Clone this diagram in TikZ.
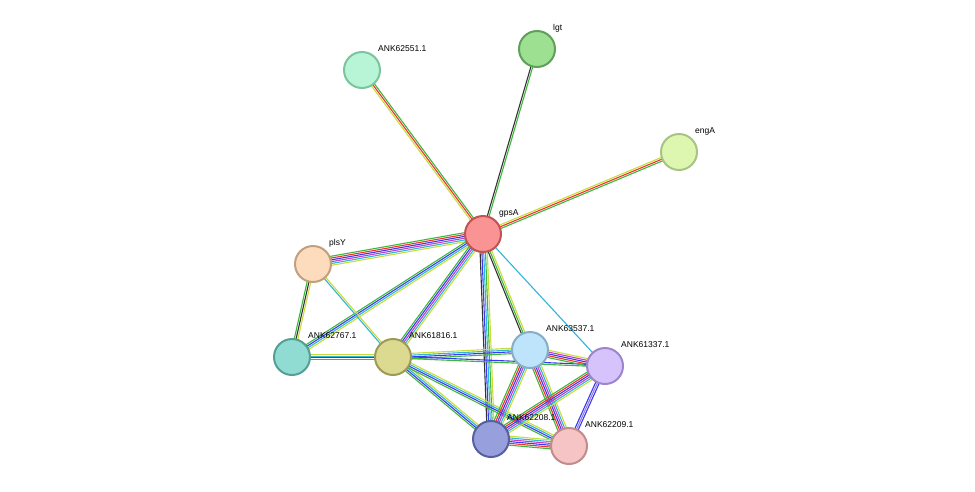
\documentclass[tikz,border=0pt]{standalone}
\usepackage{fontspec}
\setmainfont{Liberation Sans}
\usetikzlibrary{calc}
\definecolor{eGreen}{HTML}{3CB83C}
\definecolor{eRed}{HTML}{F0322D}
\definecolor{eBlue}{HTML}{3A3AF0}
\definecolor{eBlack}{HTML}{333333}
\definecolor{eMag}{HTML}{C43CC4}
\definecolor{eCyan}{HTML}{30B4D8}
\definecolor{eYel}{HTML}{C8DC3C}
\definecolor{ePur}{HTML}{9A7CE0}
\newcommand\stredge[4]{%
  \foreach \c [count=\i] in {#4}{%
    \pgfmathsetmacro\o{(\i-(#3+1)/2)*1.8}
    \draw[\c,line width=1.1pt] ($(#1)!\o pt!90:(#2)$) -- ($(#2)!\o pt!-90:(#1)$);
  }}
\newcommand\prot[4]{%
  \definecolor{pFill}{HTML}{#3}\definecolor{pDraw}{HTML}{#4}%
  \node[prot,fill=pFill,draw=pDraw] (n#1) at (#1) {};
  \node[lbl] at ([shift={(16,-21)}]#1) {#2};}
\begin{document}
\begin{tikzpicture}[x=1pt,y=-1pt]
\tikzset{prot/.style={circle,minimum size=36pt,inner sep=0,line width=2pt},
  lbl/.style={anchor=west,font=\fontsize{8.5}{10}\selectfont,inner sep=0}}
\useasboundingbox[fill=white] (0,0) rectangle (975,491);

\coordinate (a62551) at (362,70);
\coordinate (lgt) at (537,49);
\coordinate (engA) at (679,152);
\coordinate (gpsA) at (483,234);
\coordinate (plsY) at (313,264);
\coordinate (a62767) at (292,357);
\coordinate (a61816) at (393,357);
\coordinate (a63537) at (530,350);
\coordinate (a61337) at (605,366);
\coordinate (a62208) at (491,439);
\coordinate (a62209) at (569,446);

% edges
\stredge{gpsA}{a62551}{3}{eGreen,eRed,eYel}
\stredge{gpsA}{lgt}{2}{eGreen,eBlack}
\stredge{gpsA}{engA}{3}{eGreen,eRed,eYel}
\stredge{gpsA}{plsY}{6}{eGreen,eRed,eBlue,eMag,eCyan,eYel}
\stredge{gpsA}{a62767}{4}{eGreen,eBlue,eCyan,eYel}
\stredge{gpsA}{a61816}{5}{eGreen,eBlue,eMag,eCyan,eYel}
\stredge{gpsA}{a63537}{3}{eBlack,eGreen,eYel}
\stredge{gpsA}{a61337}{1}{eCyan}
\stredge{gpsA}{a62208}{5}{eBlack,eBlue,eCyan,eGreen,eYel}
\stredge{plsY}{a62767}{3}{eGreen,eBlack,eYel}
\stredge{plsY}{a61816}{2}{eCyan,eYel}
\stredge{a62767}{a61816}{4}{eGreen,eBlue,eCyan,eYel}
\stredge{a61816}{a63537}{4}{eGreen,eBlue,eCyan,eYel}
\stredge{a61816}{a61337}{2}{eGreen,eBlue}
\stredge{a61816}{a62208}{4}{eGreen,eBlue,eCyan,eYel}
\stredge{a61816}{a62209}{4}{eGreen,eBlue,eCyan,eYel}
\stredge{a63537}{a61337}{5}{eGreen,eRed,eBlue,eMag,eYel}
\stredge{a63537}{a62208}{6}{eGreen,eRed,eBlue,eMag,eCyan,eYel}
\stredge{a63537}{a62209}{6}{eGreen,eRed,eBlue,eMag,eCyan,eYel}
\stredge{a61337}{a62208}{6}{eGreen,eRed,eBlue,eMag,eCyan,eYel}
\stredge{a61337}{a62209}{3}{eBlue,ePur,eBlue}
\stredge{a62208}{a62209}{6}{eGreen,eRed,eBlue,eMag,eCyan,eYel}

% nodes
\prot{a62551}{ANK62551.1}{B8F5D6}{7CC49C}
\prot{lgt}{lgt}{9EE092}{5FA05A}
\prot{engA}{engA}{DDF7B0}{A7C484}
\prot{gpsA}{gpsA}{FA9393}{C05454}
\prot{plsY}{plsY}{FDDCBE}{C2A07E}
\prot{a62767}{ANK62767.1}{90DCD3}{559F95}
\prot{a61816}{ANK61816.1}{DCD991}{9C9A55}
\prot{a63537}{ANK63537.1}{BDE4FA}{86AEC6}
\prot{a61337}{ANK61337.1}{D6C3FB}{9B86CC}
\prot{a62208}{ANK62208.1}{97A0DC}{575FA0}
\prot{a62209}{ANK62209.1}{F6C4C4}{C08C8C}
\end{tikzpicture}
\end{document}
